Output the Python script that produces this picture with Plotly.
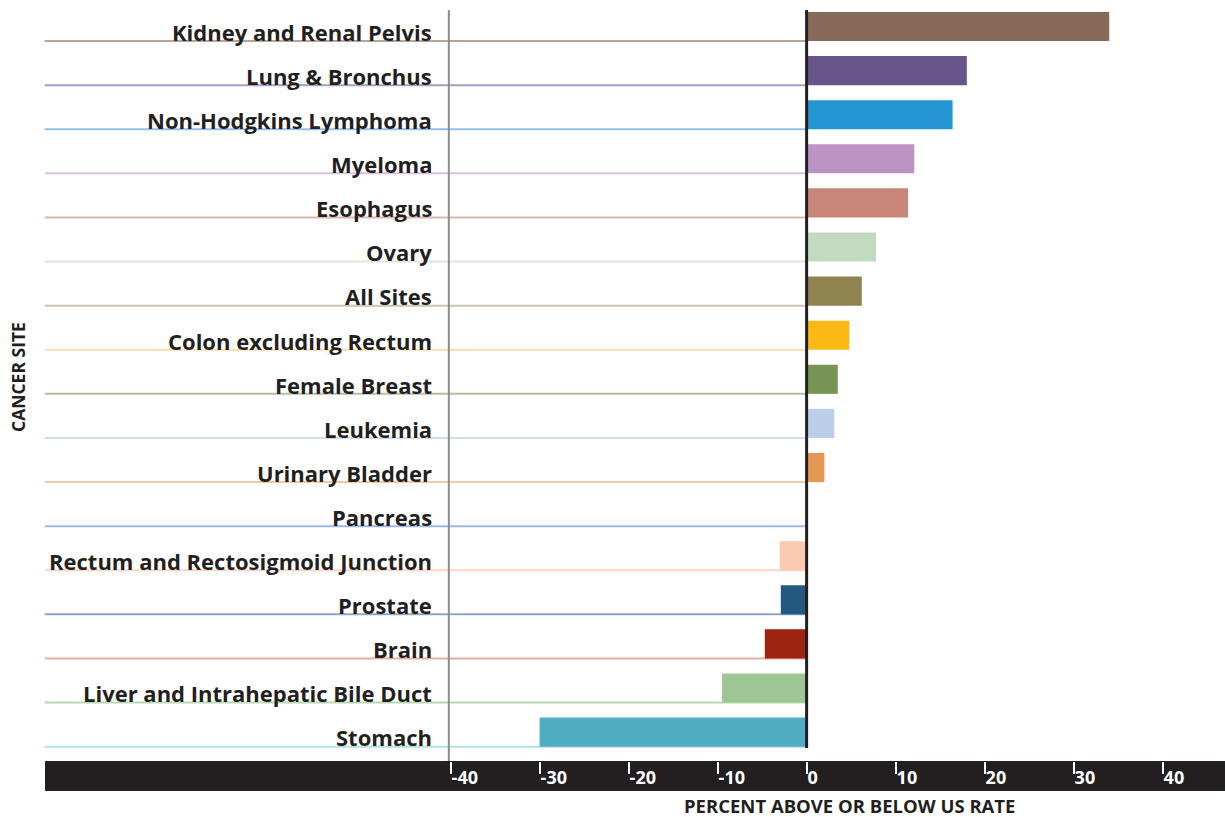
import plotly.graph_objects as go

# ---- data ----
sites = [
    "Kidney and Renal Pelvis", "Lung & Bronchus", "Non-Hodgkins Lymphoma", "Myeloma",
    "Esophagus", "Ovary", "All Sites", "Colon excluding Rectum", "Female Breast",
    "Leukemia", "Urinary Bladder", "Pancreas", "Rectum and Rectosigmoid Junction",
    "Prostate", "Brain", "Liver and Intrahepatic Bile Duct", "Stomach",
]
pct_vs_us = [34.0, 18.0, 16.4, 12.1, 11.4, 7.8, 6.2, 4.8, 3.5, 3.1, 2.0, 0.0,
             -3.0, -2.9, -4.7, -9.5, -30.0]
bar_colors = ["#886A5A", "#675689", "#2594D3", "#BB93C5", "#C8867A", "#C2DAC0",
              "#8F834F", "#FBB714", "#769453", "#BACEEA", "#E39752", "#7FA3DD",
              "#FCC9B3", "#245982", "#9C2411", "#9EC694", "#4FAEC4"]
line_colors = ["#B8A497", "#A99CC2", "#92C0EA", "#D8C3DE", "#DDB5AE", "#DCE9DA",
               "#CFC3B5", "#F8DDB0", "#B1C2A1", "#CFDDF0", "#F2C9A4", "#9DB8E6",
               "#FBD6C2", "#8FA6C0", "#E0B29F", "#B8D8B0", "#B5DDE6"]
tick_vals = [-40, -30, -20, -10, 0, 10, 20, 30, 40]
tick_text = ["-40", "-30", "-20", "-10", "0", "10", "20", "30", "40"]
x_title = "PERCENT ABOVE OR BELOW US RATE"
y_title = "CANCER SITE"

W, H = 1225, 817
FONT = "Open Sans"
INK = "#231F20"

fig = go.Figure()
fig.add_trace(go.Bar(
    x=pct_vs_us, y=sites, orientation="h", width=0.66,
    marker=dict(color=bar_colors, line=dict(width=0)),
    hoverinfo="x+y", showlegend=False,
))

shapes = []
annotations = []
for i, (s, c) in enumerate(zip(sites, line_colors)):
    shapes.append(dict(type="line", xref="x", yref="y", x0=-85.6, x1=0,
                       y0=i + 0.33, y1=i + 0.33, line=dict(color=c, width=2),
                       layer="below"))
    annotations.append(dict(x=-41.9, y=i + 0.12, xref="x", yref="y", text=s,
                            showarrow=False, xanchor="right", yanchor="middle",
                            font=dict(family=FONT, size=22, color=INK, weight="bold")))

# gray vertical line at -40
shapes.append(dict(type="line", xref="x", yref="y", x0=-40.2, x1=-40.2,
                   y0=-0.375, y1=16.66, line=dict(color="#8C8C8C", width=2)))
# zero line
shapes.append(dict(type="line", xref="x", yref="y", x0=0, x1=0,
                   y0=-0.375, y1=16.36, line=dict(color=INK, width=3)))
# black axis band
shapes.append(dict(type="rect", xref="paper", yref="paper", x0=45 / W, x1=1,
                   y0=1 - 791 / H, y1=1 - 761 / H, fillcolor=INK,
                   line=dict(width=0), layer="below"))

annotations.append(dict(x=849 / W, y=1 - 805 / H, xref="paper", yref="paper",
                        text=x_title, showarrow=False, xanchor="center", yanchor="middle",
                        font=dict(family=FONT, size=18.5, color=INK, weight="bold")))
annotations.append(dict(x=18 / W, y=1 - 377 / H, xref="paper", yref="paper",
                        text=y_title, showarrow=False, textangle=-90,
                        xanchor="center", yanchor="middle",
                        font=dict(family=FONT, size=17.5, color=INK, weight="bold")))

fig.update_layout(
    width=W, height=H,
    margin=dict(l=0, r=0, t=0, b=0),
    paper_bgcolor="white", plot_bgcolor="white",
    shapes=shapes, annotations=annotations,
    xaxis=dict(range=[-90.63, 47.01], domain=[0, 1], tickvals=tick_vals,
               ticktext=tick_text,
               ticks="outside", ticklen=12, tickwidth=2, tickcolor="white",
               ticklabelposition="outside right",
               tickfont=dict(family=FONT, size=18, color="white", weight="bold"),
               showgrid=False, zeroline=False, showline=False, fixedrange=True),
    yaxis=dict(type="category", categoryorder="array", categoryarray=sites,
               range=[16.655, -0.601], domain=[1 - 761 / H, 1],
               showticklabels=False, ticks="", showgrid=False, zeroline=False,
               showline=False, fixedrange=True),
)

fig.write_html(
    "out.html",
    config={"displayModeBar": False},
    post_script="document.body.style.margin='0';document.body.style.overflow='hidden';",
)
